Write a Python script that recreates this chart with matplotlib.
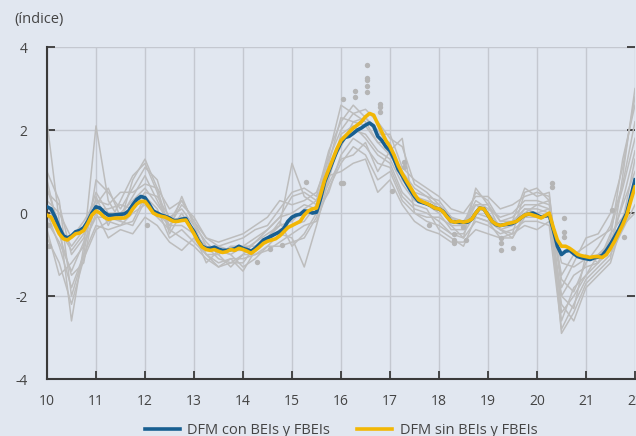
import numpy as np
import matplotlib.pyplot as plt

plt.rcParams["font.family"] = ["Open Sans", "DejaVu Sans"]
plt.rcParams["axes.unicode_minus"] = False

# --- DATA ---
# monthly, Jan 2010 .. Jan 2022 (x axis in years "10".."22")
dfm_con = [
    0.15, 0.10, -0.10, -0.35, -0.55, -0.60, -0.55, -0.45, -0.42, -0.35, -0.20, 0.00,
    0.15, 0.12, 0.02, -0.05, -0.05, -0.04, -0.03, -0.02, 0.05, 0.20, 0.33, 0.40,
    0.37, 0.22, 0.05, 0.00, -0.05, -0.08, -0.12, -0.18, -0.18, -0.15, -0.13, -0.30,
    -0.45, -0.65, -0.80, -0.85, -0.85, -0.82, -0.87, -0.90, -0.90, -0.88, -0.86, -0.80,
    -0.85, -0.88, -0.92, -0.85, -0.75, -0.65, -0.60, -0.55, -0.50, -0.45, -0.37, -0.20,
    -0.10, -0.05, -0.03, 0.05, 0.04, 0.00, 0.02, 0.35, 0.75, 1.00, 1.25, 1.50,
    1.70, 1.82, 1.85, 1.92, 2.00, 2.05, 2.12, 2.17, 2.10, 1.85, 1.75, 1.60,
    1.50, 1.30, 1.05, 0.90, 0.72, 0.55, 0.40, 0.28, 0.25, 0.22, 0.18, 0.12,
    0.10, 0.04, -0.08, -0.20, -0.22, -0.22, -0.22, -0.22, -0.15, 0.00, 0.12, 0.10,
    -0.05, -0.20, -0.28, -0.30, -0.28, -0.27, -0.25, -0.20, -0.12, -0.05, -0.02, 0.00,
    -0.05, -0.10, -0.07, -0.05, -0.40, -0.80, -1.00, -0.92, -0.90, -0.98, -1.05, -1.08,
    -1.10, -1.12, -1.08, -1.06, -1.02, -0.90, -0.75, -0.58, -0.40, -0.20, 0.00, 0.40,
    0.80,
]
dfm_sin = [
    -0.05, -0.10, -0.30, -0.50, -0.62, -0.65, -0.58, -0.50, -0.48, -0.42, -0.25, -0.05,
    0.05, 0.00, -0.10, -0.15, -0.13, -0.12, -0.12, -0.12, -0.05, 0.10, 0.22, 0.28,
    0.28, 0.15, 0.00, -0.05, -0.08, -0.10, -0.15, -0.20, -0.20, -0.18, -0.17, -0.33,
    -0.50, -0.68, -0.82, -0.88, -0.90, -0.88, -0.92, -0.95, -0.93, -0.88, -0.90, -0.85,
    -0.88, -0.92, -0.97, -0.90, -0.82, -0.73, -0.68, -0.65, -0.62, -0.55, -0.45, -0.35,
    -0.30, -0.25, -0.20, -0.05, 0.05, 0.10, 0.12, 0.45, 0.80, 1.05, 1.30, 1.55,
    1.75, 1.85, 1.95, 2.05, 2.12, 2.20, 2.32, 2.40, 2.36, 2.15, 1.95, 1.75,
    1.60, 1.40, 1.15, 0.95, 0.78, 0.62, 0.45, 0.32, 0.27, 0.23, 0.18, 0.12,
    0.10, 0.03, -0.10, -0.20, -0.22, -0.20, -0.22, -0.20, -0.15, 0.00, 0.12, 0.10,
    -0.05, -0.20, -0.27, -0.30, -0.28, -0.25, -0.23, -0.20, -0.12, -0.05, -0.02, -0.05,
    -0.08, -0.12, -0.06, 0.00, -0.35, -0.65, -0.80, -0.80, -0.85, -0.92, -1.00, -1.03,
    -1.05, -1.07, -1.05, -1.05, -1.07, -1.00, -0.85, -0.68, -0.48, -0.28, -0.05, 0.30,
    0.63,
]

# individual indicators, quarterly 2010Q1 .. 2022Q1
indicators = [
    [2.2, -0.2, -2.6, -0.8, 2.1, 0.3, -0.2, 0.8, 1.3, 0.6, -0.4, 0.4, -0.3, -1.0, -1.3, -1.1, -1.4,
     -0.9, -0.6, -0.3, 1.2, 0.4, 0.2, 1.4, 2.6, 2.4, 2.5, 2.2, 1.8, 1.6, 0.7, 0.5, 0.2, -0.3, -0.6,
     0.6, 0.2, -0.4, -0.5, 0.5, 0.6, 0.3, -2.9, -2.4, -1.7, -1.4, -1.1, 0.9, 3.0],
    [1.0, 0.3, -2.0, -1.0, 0.8, 0.5, 0.1, 0.6, 1.1, 0.8, -0.2, 0.3, -0.2, -0.8, -1.1, -1.2, -1.0,
     -0.7, -0.4, -0.1, 0.4, 0.5, 0.3, 1.2, 2.3, 2.2, 2.3, 2.0, 1.6, 1.0, 0.6, 0.4, 0.3, -0.1, -0.3,
     0.5, 0.3, -0.2, -0.2, 0.6, 0.4, 0.5, -2.4, -2.0, -1.5, -1.2, -0.6, 1.3, 2.6],
    [0.8, -0.5, -1.5, -1.2, 0.4, -0.3, 0.3, 0.9, 1.2, 0.5, -0.5, 0.0, -0.5, -1.2, -0.9, -1.0, -1.3,
     -1.1, -0.8, -0.5, -0.6, -1.3, -0.3, 0.8, 1.9, 2.1, 1.8, 1.4, 1.2, 0.5, 0.2, 0.1, -0.4, -0.6, -0.8,
     -0.1, -0.2, -0.6, -0.6, 0.0, 0.2, 0.1, -2.2, -2.6, -1.8, -1.5, -1.2, -0.2, 1.3],
    [0.5, 0.2, -1.0, -0.6, 0.2, 0.6, -0.1, 0.4, 0.9, 0.3, -0.3, 0.2, -0.1, -0.6, -0.8, -0.7, -0.6,
     -0.4, -0.3, 0.1, 0.5, 0.6, 0.4, 1.5, 2.2, 2.6, 2.3, 1.9, 1.9, 1.1, 0.8, 0.6, 0.4, 0.1, 0.0,
     0.4, 0.4, 0.1, 0.2, 0.4, 0.5, 0.4, -1.8, -1.2, -0.6, -0.5, 0.0, 1.1, 2.8],
    [0.0, -0.8, -1.8, -1.0, -0.3, -0.4, -0.3, -0.2, 0.4, 0.1, -0.6, -0.4, -0.7, -1.0, -1.2, -1.1, -1.1,
     -1.0, -0.9, -0.7, -0.5, -0.3, -0.2, 0.6, 1.2, 1.6, 1.4, 0.8, 1.0, 0.3, 0.0, -0.2, -0.3, -0.5, -0.6,
     -0.2, -0.3, -0.5, -0.4, -0.2, -0.2, -0.3, -2.8, -2.2, -1.6, -1.3, -1.0, -0.4, 0.2],
    [-0.4, -1.5, -1.2, -0.8, 0.0, -0.6, -0.4, -0.5, -0.1, -0.3, -0.7, -0.9, -0.6, -1.0, -1.0, -1.3, -1.0,
     -1.0, -0.8, -0.8, -0.7, -0.6, -0.1, 0.9, 1.0, 1.2, 1.3, 0.5, 0.8, 0.2, -0.2, -0.4, -0.5, -0.7, -0.7,
     -0.4, -0.5, -0.6, -0.5, -0.3, -0.4, -0.2, -2.0, -1.5, -1.3, -1.2, -0.9, -0.3, 0.0],
    [0.3, 0.0, -0.6, -0.2, 0.3, 0.2, 0.5, 0.5, 0.7, 0.6, 0.1, 0.3, -0.2, -0.6, -0.7, -0.6, -0.5,
     -0.3, -0.1, 0.3, 0.2, 0.3, 0.5, 1.3, 2.0, 2.4, 2.2, 1.7, 1.4, 0.9, 0.5, 0.4, 0.1, -0.2, -0.3,
     0.3, 0.1, -0.1, 0.0, 0.3, 0.3, 0.2, -1.5, -1.0, -0.8, -0.6, -0.4, 0.6, 1.8],
    [0.6, -0.3, -0.8, -0.4, 0.5, 0.0, 0.0, 0.3, 0.6, 0.2, -0.2, -0.1, -0.4, -0.9, -0.8, -0.9, -0.9,
     -0.7, -0.5, -0.3, -0.2, 0.1, 0.3, 1.0, 1.8, 2.0, 1.9, 1.5, 1.3, 0.7, 0.3, 0.2, 0.0, -0.4, -0.4,
     0.2, 0.0, -0.3, -0.2, 0.1, 0.0, 0.1, -1.2, -1.3, -1.1, -1.0, -0.7, 0.2, 1.0],
    [-0.6, -1.2, -2.2, -1.1, -0.4, -0.2, -0.3, 0.0, 0.2, -0.1, -0.4, -0.6, -0.8, -1.1, -1.3, -1.2, -1.2,
     -0.8, -0.6, -0.2, -0.8, -0.5, 0.0, 0.5, 1.4, 1.8, 1.6, 1.2, 1.1, 0.4, 0.1, 0.0, -0.2, -0.5, -0.5,
     0.0, -0.1, -0.4, -0.3, 0.1, 0.1, 0.0, -2.6, -1.8, -1.5, -1.0, -0.8, 0.3, 1.5],
    [0.2, -0.4, -0.9, -0.5, 0.1, 0.1, 0.2, 0.1, 0.5, 0.4, -0.1, 0.1, -0.3, -0.7, -1.0, -0.8, -0.8,
     -0.6, -0.4, -0.1, 0.0, 0.2, 0.1, 1.1, 1.6, 2.2, 2.1, 1.7, 1.7, 0.8, 0.4, 0.3, 0.2, -0.1, -0.2,
     0.2, 0.2, -0.2, -0.1, 0.2, 0.2, 0.3, -1.6, -1.9, -1.2, -0.8, -0.3, 0.7, 2.2],
    [-0.2, -0.7, -1.4, -0.7, -0.1, -0.1, -0.2, -0.3, 0.3, 0.0, -0.3, -0.3, -0.5, -0.8, -0.9, -1.0, -0.8,
     -0.8, -0.7, -0.4, -0.3, -0.2, 0.2, 0.7, 1.3, 1.4, 1.7, 1.0, 1.5, 1.8, 0.0, -0.1, -0.1, -0.3, -0.3,
     -0.1, -0.2, -0.4, -0.6, -0.1, -0.1, -0.1, -2.0, -2.3, -1.0, -1.2, -0.5, -0.1, 0.6],
]

# isolated observations (dots)
dots_x = [10.05, 10.05, 12.05, 14.29, 14.55, 14.8, 15.28, 16.0, 16.05, 16.05, 16.28, 16.28,
          16.54, 16.54, 16.54, 16.54, 16.54, 16.79, 16.79, 16.79, 17.05, 17.28, 17.28, 17.8,
          18.3, 18.3, 18.3, 18.5, 18.55, 19.27, 19.27, 19.27, 19.52, 20.3, 20.3, 20.55, 20.55,
          20.55, 21.53, 21.78]
dots_y = [-0.3, -0.8, -0.29, -1.18, -0.87, -0.77, 0.75, 0.72, 0.72, 2.75, 2.94, 2.8,
          3.57, 3.25, 3.2, 3.06, 2.92, 2.62, 2.55, 2.43, 0.53, 1.23, 1.1, -0.3,
          -0.65, -0.5, -0.72, -0.34, -0.65, -0.6, -0.72, -0.89, -0.85, 0.72, 0.63, -0.13, -0.46,
          -0.57, 0.07, -0.57]

x_month = 10 + np.arange(len(dfm_con)) / 12
x_quarter = 10 + np.arange(len(indicators[0])) / 4

bg = "#e1e7f0"
fig = plt.figure(figsize=(6.36, 4.36), dpi=100, facecolor=bg)
ax = fig.add_axes([0.0739, 0.1307, 0.9245, 0.7613], facecolor=bg)

for serie in indicators:
    ax.plot(x_quarter, serie, color="#bdbdbd", lw=1.1, zorder=2)
ax.scatter(dots_x, dots_y, s=15, color="#b5b5b5", zorder=2, linewidths=0)

ax.plot(x_month, dfm_con, color="#185f91", lw=2.6, label="DFM con BEIs y FBEIs", zorder=4)
ax.plot(x_month, dfm_sin, color="#f2b705", lw=2.6, label="DFM sin BEIs y FBEIs", zorder=5)

ax.set_xlim(10, 22)
ax.set_ylim(-4, 4)
ax.set_xticks(range(10, 23))
ax.set_yticks([-4, -2, 0, 2, 4])
ax.grid(True, color="#c4c8d0", lw=1.0, zorder=0)
ax.set_axisbelow(True)

for side in ["top", "right"]:
    ax.spines[side].set_visible(False)
for side in ["left", "bottom"]:
    ax.spines[side].set_color("#3a3a3a")
    ax.spines[side].set_linewidth(1.5)

ax.tick_params(axis="both", direction="in", length=6, width=1.3, color="#3a3a3a",
               labelsize=10, labelcolor="#444444")
ax.tick_params(axis="y", pad=14, right=True)
ax.tick_params(axis="x", pad=11)

fig.text(0.022, 0.955, "(índice)", fontsize=10.5, color="#444444", va="center", ha="left")

fig.legend(loc="center", bbox_to_anchor=(0.536, 0.013), ncol=2, frameon=False, fontsize=10.5,
           handlelength=2.4, handletextpad=0.5, columnspacing=1.9, labelcolor="#444444")

fig.savefig("out.png", dpi=100, facecolor=bg)
